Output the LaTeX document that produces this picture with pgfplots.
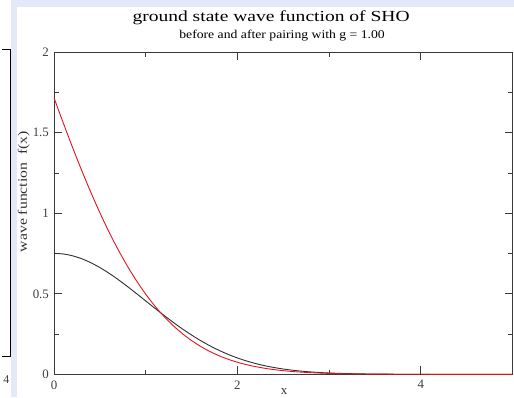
\documentclass[border=0pt]{standalone}
\usepackage{fontspec}
\setmainfont{Liberation Serif}
\newfontfamily\titlefont[FakeStretch=1.27]{Liberation Serif}
\newfontfamily\subfont[FakeStretch=1.15]{Liberation Serif}
\newfontfamily\labfont[FakeStretch=1.22]{Liberation Serif}
\usepackage{pgfplots}
\pgfplotsset{compat=1.18}
\definecolor{bgblue}{HTML}{E3E9F8}
\definecolor{axgray}{HTML}{3A3A3A}
\definecolor{curvered}{HTML}{E3141B}
\definecolor{curveblack}{HTML}{303030}
\begin{document}
\begin{tikzpicture}[x=1bp,y=1bp]
\fill[white] (0,0) rectangle (514,399);
\fill[bgblue] (9,0) rectangle (15,399);
\fill[bgblue] (9,392) rectangle (514,399);
\draw[black, line width=0.8bp] (0,349) -- (8,349) -- (8,41) -- (0,41);
\node[anchor=base, font=\fontsize{12}{12}\selectfont, text=black!75] at (4,14) {4};
\begin{axis}[
  at={(52bp,23bp)}, anchor=south west, scale only axis,
  width=460.5bp, height=323.5bp,
  xmin=0, xmax=5, ymin=0, ymax=2,
  xtick={0,2,4}, minor xtick={1,3,5},
  ytick={0,0.5,1,1.5,2}, minor ytick={0.25,0.75,1.25,1.75},
  tick align=inside,
  major tick length=8bp, minor tick length=4.5bp,
  axis line style={axgray, line width=0.9bp},
  every tick/.style={axgray, line width=0.8bp},
  every minor tick/.style={axgray, line width=0.8bp},
  /pgf/number format/assume math mode=true,
  ticklabel style={font=\fontsize{13}{13}\selectfont, text=black!75},
  yticklabel style={anchor=east, inner sep=0pt, xshift=-5bp},
  xticklabel style={anchor=north, inner sep=0pt, yshift=-6bp},
  yticklabel={\pgfmathprintnumber[fixed]{\tick}},
  clip=false,
]
\addplot[curveblack, line width=0.9bp, smooth] coordinates {
(0,0.7511)(0.1,0.7474)(0.2,0.7362)(0.3,0.7181)(0.4,0.6933)(0.5,0.6629)
(0.6,0.6274)(0.7,0.5879)(0.8,0.5454)(0.9,0.5010)(1.0,0.4556)(1.1,0.4102)
(1.2,0.3656)(1.3,0.3227)(1.4,0.2819)(1.5,0.2439)(1.6,0.2088)(1.7,0.1770)
(1.8,0.1487)(1.9,0.1235)(2.0,0.1017)(2.1,0.0828)(2.2,0.0668)(2.3,0.0533)
(2.4,0.0422)(2.5,0.0330)(2.6,0.0256)(2.7,0.0196)(2.8,0.0149)(2.9,0.0112)
(3.0,0.0083)(3.2,0.0045)(3.4,0.0023)(3.6,0.0012)(3.8,0.0005)(4.0,0.0003)
(4.5,0.0000)(5.0,0.0000)
};
\addplot[curvered, line width=0.9bp, smooth] coordinates {
(0,1.716)(0.1,1.5616)(0.2,1.4118)(0.3,1.2681)(0.4,1.1315)(0.5,1.0030)
(0.6,0.8833)(0.7,0.7728)(0.8,0.6718)(0.9,0.5800)(1.0,0.4976)(1.1,0.4240)
(1.2,0.3590)(1.3,0.3020)(1.4,0.2524)(1.5,0.2095)(1.6,0.1728)(1.7,0.1416)
(1.8,0.1152)(1.9,0.0932)(2.0,0.0749)(2.1,0.0598)(2.2,0.0474)(2.3,0.0373)
(2.4,0.0292)(2.5,0.0227)(2.6,0.0175)(2.7,0.0135)(2.8,0.0103)(2.9,0.0078)
(3.0,0.0058)(3.2,0.0032)(3.4,0.0018)(3.6,0.0009)(3.8,0.0005)(4.0,0.0002)
(4.5,0.0000)(5.0,0.0000)
};
\end{axis}
\node[anchor=base, font=\titlefont\fontsize{15.5}{15.5}\selectfont] at (270,377) {ground state wave function of SHO};
\node[anchor=base, font=\subfont\fontsize{12}{12}\selectfont] at (281,360) {before and after pairing with g = 1.00};
\node[rotate=90, font=\labfont\fontsize{13}{13}\selectfont, text=black!80] at (21.5,206.5) {wave function\ \ f(x)};
\node[anchor=base, inner sep=0pt, font=\fontsize{13}{13}\selectfont, text=black!80] at (283,2.5) {x};
\end{tikzpicture}
\end{document}
